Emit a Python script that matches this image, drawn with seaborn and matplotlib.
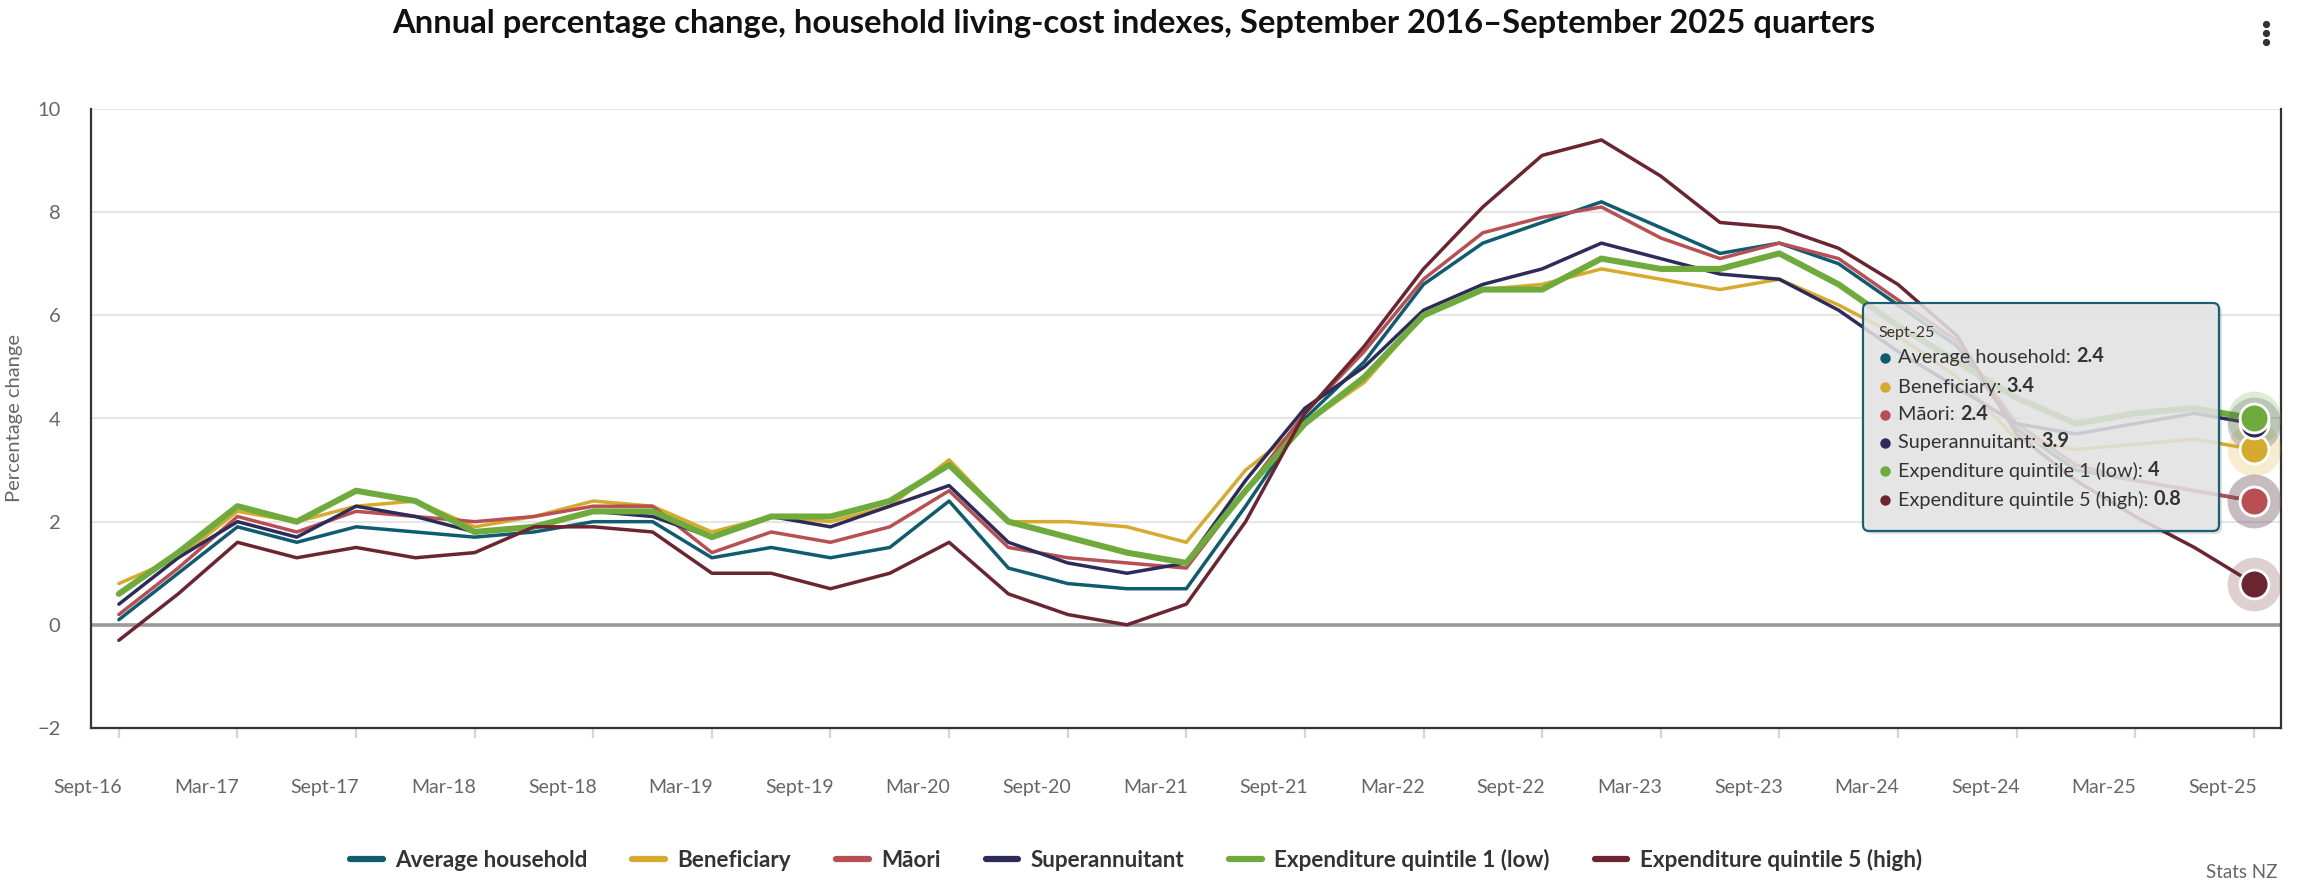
import matplotlib
matplotlib.use("Agg")
import matplotlib.pyplot as plt
import seaborn as sns
import pandas as pd
from matplotlib.patches import FancyBboxPatch
from matplotlib.transforms import ScaledTranslation, IdentityTransform
from matplotlib.lines import Line2D

# ---------------- data ----------------
quarters = []
for yr in range(16, 26):
    for m in ["Mar", "Jun", "Sept", "Dec"]:
        quarters.append(f"{m}-{yr}")
quarters = quarters[quarters.index("Sept-16"):quarters.index("Sept-25") + 1]

series_names = ["Average household", "Beneficiary", "Māori", "Superannuitant",
                "Expenditure quintile 1 (low)", "Expenditure quintile 5 (high)"]

average_household = [0.1, 1.0, 1.9, 1.6, 1.9, 1.8, 1.7, 1.8, 2.0, 2.0, 1.3, 1.5, 1.3, 1.5, 2.4, 1.1, 0.8, 0.7, 0.7,
                     2.3, 4.0, 5.1, 6.6, 7.4, 7.8, 8.2, 7.7, 7.2, 7.4, 7.0, 6.2, 5.4, 3.8, 3.0, 2.8, 2.6, 2.4]
beneficiary = [0.8, 1.3, 2.2, 2.0, 2.3, 2.4, 1.9, 2.1, 2.4, 2.3, 1.8, 2.1, 2.0, 2.3, 3.2, 2.0, 2.0, 1.9, 1.6,
               3.0, 3.9, 4.7, 6.0, 6.5, 6.6, 6.9, 6.7, 6.5, 6.7, 6.2, 5.6, 4.8, 3.6, 3.4, 3.5, 3.6, 3.4]
maori = [0.2, 1.1, 2.1, 1.8, 2.2, 2.1, 2.0, 2.1, 2.3, 2.3, 1.4, 1.8, 1.6, 1.9, 2.6, 1.5, 1.3, 1.2, 1.1,
         2.6, 4.1, 5.3, 6.7, 7.6, 7.9, 8.1, 7.5, 7.1, 7.4, 7.1, 6.3, 5.5, 3.9, 3.1, 2.8, 2.6, 2.4]
superannuitant = [0.4, 1.3, 2.0, 1.7, 2.3, 2.1, 1.8, 1.9, 2.2, 2.1, 1.7, 2.1, 1.9, 2.3, 2.7, 1.6, 1.2, 1.0, 1.2,
                  2.8, 4.2, 5.0, 6.1, 6.6, 6.9, 7.4, 7.1, 6.8, 6.7, 6.1, 5.3, 4.6, 3.9, 3.7, 3.9, 4.1, 3.9]
quintile1_low = [0.6, 1.4, 2.3, 2.0, 2.6, 2.4, 1.8, 1.9, 2.2, 2.2, 1.7, 2.1, 2.1, 2.4, 3.1, 2.0, 1.7, 1.4, 1.2,
                 2.6, 3.9, 4.8, 6.0, 6.5, 6.5, 7.1, 6.9, 6.9, 7.2, 6.6, 5.8, 5.1, 4.4, 3.9, 4.1, 4.2, 4.0]
quintile5_high = [-0.3, 0.6, 1.6, 1.3, 1.5, 1.3, 1.4, 1.9, 1.9, 1.8, 1.0, 1.0, 0.7, 1.0, 1.6, 0.6, 0.2, 0.0, 0.4,
                  2.0, 4.1, 5.4, 6.9, 8.1, 9.1, 9.4, 8.7, 7.8, 7.7, 7.3, 6.6, 5.6, 3.7, 2.8, 2.1, 1.5, 0.8]

tooltip_values = ["2.4", "3.4", "2.4", "3.9", "4", "0.8"]

all_values = [average_household, beneficiary, maori, superannuitant, quintile1_low, quintile5_high]
colors = ["#0f5c70", "#d6aa2c", "#b84f52", "#2d2b5a", "#6fab3c", "#6b2530"]
widths = [2.5, 2.5, 2.5, 2.5, 4.4, 2.5]

frames = []
for name, vals in zip(series_names, all_values):
    frames.append(pd.DataFrame({"q": range(len(quarters)), "quarter": quarters,
                                "value": vals, "series": name}))
df = pd.concat(frames, ignore_index=True)

# ---------------- style ----------------
sns.set_theme(style="white")
plt.rcParams["font.family"] = ["Lato", "DejaVu Sans"]

W, H = 2297, 894
fig = plt.figure(figsize=(W / 100, H / 100), dpi=100)
ax = fig.add_axes([91 / W, 1 - 728 / H, (2281 - 91) / W, (728 - 109) / H])

for i, name in enumerate(series_names):
    sub = df[df["series"] == name]
    sns.lineplot(data=sub, x="q", y="value", ax=ax, color=colors[i], linewidth=widths[i],
                 sort=False, legend=False, zorder=3 + i * 0.1)

# hover markers on last point
last = df[df["q"] == len(quarters) - 1]
for i, name in enumerate(series_names):
    pt = last[last["series"] == name]
    sns.scatterplot(data=pt, x="q", y="value", ax=ax, s=1500, color=colors[i], alpha=0.22,
                    linewidth=0, legend=False, zorder=5)
for i, name in enumerate(series_names):
    pt = last[last["series"] == name]
    sns.scatterplot(data=pt, x="q", y="value", ax=ax, s=430, color=colors[i],
                    edgecolor="white", linewidth=2, legend=False, zorder=6 + i * 0.1)

ax.set_xlim(-0.47, 36.46)
ax.set_ylim(-2, 10)
ax.set_yticks(range(-2, 11, 2))
ax.yaxis.grid(True, color="#e6e6e6", linewidth=1.5)
ax.xaxis.grid(False)
ax.set_axisbelow(True)
ax.axhline(0, color="#999999", linewidth=2.6, zorder=2)

for s in ["left", "bottom", "right"]:
    ax.spines[s].set_visible(True)
    ax.spines[s].set_color("#333333")
    ax.spines[s].set_linewidth(1.6)
ax.spines["top"].set_visible(False)

tick_pos = list(range(0, len(quarters), 2))
ax.set_xticks(tick_pos)
ax.set_xticklabels([quarters[i] for i in tick_pos])
ax.tick_params(axis="x", length=7, width=1.6, color="#ccd6eb", direction="out",
               pad=30, labelsize=14, labelcolor="#666666", bottom=True)
ax.tick_params(axis="y", length=0, pad=22, labelsize=14.5, labelcolor="#666666")
for lab in ax.get_xticklabels():
    lab.set_transform(lab.get_transform() + ScaledTranslation(-0.31, 0, fig.dpi_scale_trans))

ax.set_xlabel("")
ax.set_ylabel("Percentage change", fontsize=14.5, color="#666666")
ax.yaxis.set_label_coords(-0.031, 0.5)

# ---------------- title, menu, credit ----------------
fig.text(1134 / W, 1 - 23 / H,
         "Annual percentage change, household living-cost indexes, September 2016–September 2025 quarters",
         ha="center", va="center", fontsize=23.6, fontweight="bold", color="#111111")
for yy in (24, 33, 42):
    fig.add_artist(Line2D([2266], [H - yy], marker="o", ms=4.2, color="#333333",
                          transform=IdentityTransform()))
fig.text(2277 / W, 1 - 872 / H, "Stats NZ", ha="right", va="center", fontsize=13.5, color="#666666")

# ---------------- legend ----------------
handles = [Line2D([0], [0], color=c, lw=4.5) for c in colors]
leg = fig.legend(handles, series_names, loc="center", bbox_to_anchor=(1136 / W, 1 - 860 / H),
                 ncol=6, frameon=False, handlelength=1.45, handletextpad=0.55, columnspacing=2.0,
                 prop={"weight": "bold", "size": 16.2})
for t in leg.get_texts():
    t.set_color("#333333")

# ---------------- tooltip ----------------
x0, y0, x1, y1 = 1863, 303, 2219, 531
shadow = FancyBboxPatch((x0 + 3, H - y1 - 3), x1 - x0, y1 - y0,
                        boxstyle="round,pad=0,rounding_size=6", transform=IdentityTransform(),
                        fc=(0, 0, 0, 0.12), ec="none", zorder=20)
box = FancyBboxPatch((x0, H - y1), x1 - x0, y1 - y0,
                     boxstyle="round,pad=0,rounding_size=6", transform=IdentityTransform(),
                     fc=(0.905, 0.905, 0.905, 0.85), ec="#1a5f72", lw=1.6, zorder=21)
fig.add_artist(shadow)
fig.add_artist(box)
fig.text(1878 / W, 1 - 333 / H, quarters[-1], ha="left", va="center", fontsize=11.5,
         color="#333333", zorder=22)
row_y = [358, 387, 415, 443, 471, 500]
for i, name in enumerate(series_names):
    fig.add_artist(Line2D([1885], [H - row_y[i]], marker="o", ms=7.5, color=colors[i], mew=0,
                          transform=IdentityTransform(), zorder=22))
    t = fig.text(1898 / W, 1 - row_y[i] / H, name + ": ", ha="left", va="center",
                 fontsize=14.3, color="#333333", zorder=22)
    fig.add_artist(plt.Annotation(tooltip_values[i], xy=(1, 0), xycoords=t, ha="left", va="bottom",
                                  fontsize=14.3, fontweight="bold", color="#333333", zorder=22))

fig.savefig("out.png", dpi=100, facecolor="white")
